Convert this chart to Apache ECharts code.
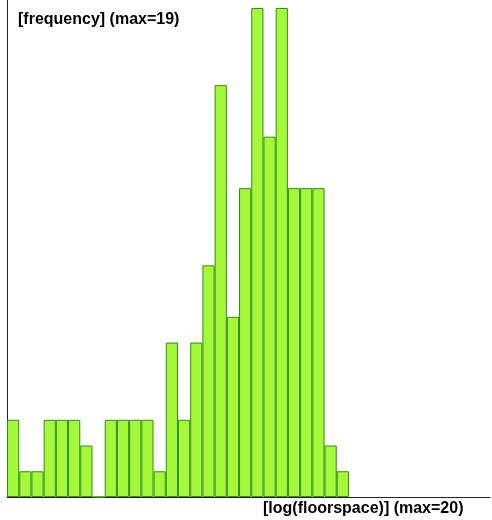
<!DOCTYPE html>
<html>
<head>
<meta charset="utf-8">
<script src="https://cdn.jsdelivr.net/npm/echarts@6/dist/echarts.min.js"></script>
<style>
  html, body { margin: 0; padding: 0; background: #fff; }
  #chart { width: 492px; height: 520px; }
</style>
</head>
<body>
<div id="chart"></div>
<script>
// bin counts, one per histogram bin (left to right)
var counts = [3, 1, 1, 3, 3, 3, 2, 0, 3, 3, 3, 3, 1, 6, 3, 6, 9, 16, 7, 12, 19, 14, 19, 12, 12, 12, 2, 1]
var yTitle = '[frequency] (max=19)'
var xTitle = '[log(floorspace)] (max=20)'

var barData = counts.map(function (c, i) { return [i + 0.5, c] })

var chart = echarts.init(document.getElementById('chart'))
chart.setOption({
  animation: false,
  grid: { left: 7, top: 0, right: 2, bottom: 23 },
  xAxis: {
    type: 'value',
    min: 0,
    max: 39.55,
    axisLine: { show: true, lineStyle: { color: '#222', width: 1 } },
    axisTick: { show: false },
    axisLabel: { show: false },
    splitLine: { show: false }
  },
  yAxis: {
    type: 'value',
    min: 0,
    max: 19.31,
    axisLine: { show: true, lineStyle: { color: '#222', width: 1 } },
    axisTick: { show: false },
    axisLabel: { show: false },
    splitLine: { show: false }
  },
  graphic: [
    {
      type: 'text', left: 18, top: 12,
      style: { text: yTitle, font: 'bold 16px "Liberation Sans", Arial, sans-serif', fill: '#000' }
    },
    {
      type: 'text', left: 263, top: 501,
      style: { text: xTitle, font: 'bold 16px "Liberation Sans", Arial, sans-serif', fill: '#000' }
    }
  ],
  series: [
    {
      type: 'bar',
      data: barData,
      barWidth: 12.2,
      itemStyle: { color: '#a4f93a', borderColor: '#2f8f0e', borderWidth: 1 }
    }
  ]
})
</script>
</body>
</html>
